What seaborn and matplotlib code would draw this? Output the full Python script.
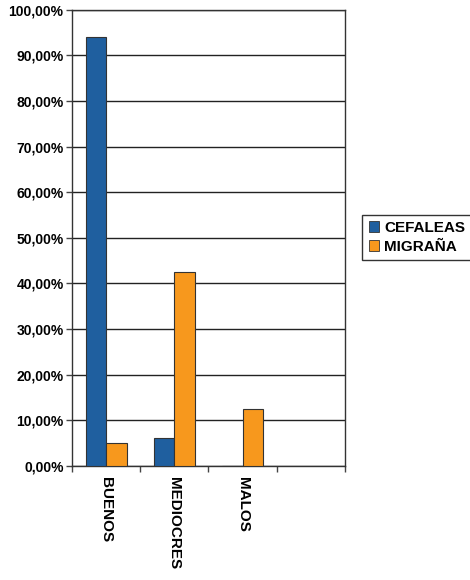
import pandas as pd
import matplotlib.pyplot as plt
import seaborn as sns

# Datos
categorias = ['BUENOS', 'MEDIOCRES', 'MALOS']
cefaleas = [94.0, 6.0, 0.0]
migrana = [5.0, 42.5, 12.5]
series = ['CEFALEAS', 'MIGRAÑA']
colores = ['#1F5F9F', '#F7981D']

df = pd.DataFrame({
    'cat': categorias * 2,
    'serie': [series[0]] * 3 + [series[1]] * 3,
    'valor': cefaleas + migrana,
})

sns.set_style('white')
plt.rcParams['font.family'] = ['Liberation Sans', 'DejaVu Sans']
plt.rcParams['font.weight'] = 'bold'
plt.rcParams['text.color'] = 'black'
plt.rcParams['xtick.color'] = 'black'
plt.rcParams['ytick.color'] = 'black'

fig = plt.figure(figsize=(4.7, 5.8), dpi=100)
ax = fig.add_axes([0.153, 0.197, 0.581, 0.786])

sns.barplot(data=df, x='cat', y='valor', hue='serie', order=categorias,
            palette=colores, saturation=1, width=0.6, edgecolor='#333333',
            linewidth=0.8, ax=ax, zorder=3)

ax.set_xlim(-0.5, 3.5)
ax.set_ylim(0, 100)
ax.set_yticks(range(0, 101, 10))
ax.set_yticklabels([f'{v},00%' for v in range(0, 101, 10)], fontsize=10, fontweight='bold')
ax.yaxis.grid(True, color='#222222', linewidth=1.0, zorder=0)
ax.tick_params(axis='y', length=4, width=1, color='#444444', direction='out', left=True, pad=2)

ax.set_xticks([-0.5, 0.5, 1.5, 2.5, 3.5])
ax.set_xticklabels([])
ax.set_xticks([0, 1, 2], minor=True)
ax.set_xticklabels(categorias, minor=True, rotation=270, fontsize=11, fontweight='bold', va='top')
ax.tick_params(axis='x', which='major', length=4, width=1, color='#444444', direction='out', bottom=True)
ax.tick_params(axis='x', which='minor', length=0, pad=8)

ax.set_xlabel('')
ax.set_ylabel('')
for s in ax.spines.values():
    s.set_color('#333333')
    s.set_linewidth(1.0)

ax.get_legend().remove()
handles = [plt.Rectangle((0, 0), 1, 1, facecolor=c, edgecolor='#333333', linewidth=0.6) for c in colores]
fig.legend(handles, series, loc='center left', bbox_to_anchor=(0.755, 0.591),
           bbox_transform=fig.transFigure, fancybox=False, edgecolor='#333333',
           framealpha=1, handlelength=0.7, handleheight=0.7, handletextpad=0.3,
           borderpad=0.4, labelspacing=0.3, prop={'size': 11, 'weight': 'bold'})

fig.savefig('out.png', dpi=100)
